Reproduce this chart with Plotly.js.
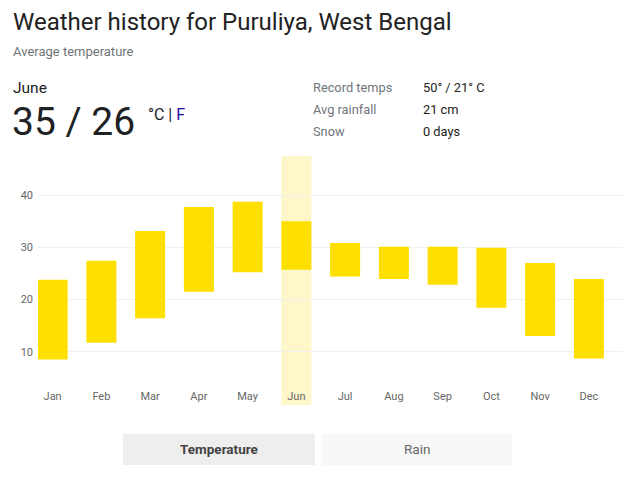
<!DOCTYPE html>
<html>
<head>
<meta charset="utf-8">
<script src="https://cdn.plot.ly/plotly-3.0.1.min.js"></script>
<style>html,body{margin:0;padding:0;background:#fff;}#chart{width:629px;height:479px;}</style>
</head>
<body>
<div id="chart"></div>
<script>
// ---- data ----
var months = ['Jan','Feb','Mar','Apr','May','Jun','Jul','Aug','Sep','Oct','Nov','Dec'];
var highTemps = [23.8, 27.4, 33.1, 37.7, 38.7, 35.0, 30.8, 30.1, 30.1, 29.9, 27.0, 23.9];
var lowTemps  = [8.5, 11.7, 16.4, 21.5, 25.2, 25.7, 24.4, 23.9, 22.8, 18.4, 13.0, 8.7];
var yTickVals = [10, 20, 30, 40];
var selectedMonth = 'Jun';
var titleText = 'Weather history for Puruliya, West Bengal';
var subtitleText = 'Average temperature';
var monthName = 'June';
var currentTemps = '35 / 26';
var statLabels = ['Record temps', 'Avg rainfall', 'Snow'];
var statValues = ['50° / 21° C', '21 cm', '0 days'];
var tabLabels = ['Temperature', 'Rain'];

// ---- layout helpers ----
var W = 629, H = 479;
var M = {l: 38, r: 6, t: 156, b: 74};
var PW = W - M.l - M.r, PH = H - M.t - M.b;
function px(x) { return (x - M.l) / PW; }
function py(y) { return (H - M.b - y) / PH; }
var FONT = 'Roboto, Arial, sans-serif';

var spans = highTemps.map(function (h, i) { return h - lowTemps[i]; });

var trace = {
  type: 'bar',
  x: months,
  y: spans,
  base: lowTemps,
  width: 0.615,
  marker: {color: '#fde000', line: {width: 0}},
  hoverinfo: 'skip'
};

var annotations = [];
function txt(text, x, y, size, color, opts) {
  var a = {
    text: text, xref: 'paper', yref: 'paper', x: px(x), y: py(y),
    xanchor: 'left', yanchor: 'middle', showarrow: false,
    font: {family: FONT, size: size, color: color}
  };
  if (opts) { for (var k in opts) a[k] = opts[k]; }
  annotations.push(a);
}
txt(titleText, 11, 22, 24, '#222222');
txt(subtitleText, 11, 51, 13, '#70757a');
txt(monthName, 11, 88, 15.5, '#222222');
txt(currentTemps, 10, 122, 39, '#202124');
txt('°C <span style="color:#202124">|</span> <span style="color:#1a0dab">F</span>', 146, 115, 16, '#202124');
var statY = [87, 109, 132];
statLabels.forEach(function (s, i) {
  txt(s, 311, statY[i], 12.8, '#70757a');
  txt(statValues[i], 421, statY[i], 12.8, '#222222');
});

var tabX = [[123, 315], [321, 512]];
var tabFill = ['#eeeeee', '#f8f8f8'];
var tabColor = ['#444444', '#666666'];
var shapes = [];
tabLabels.forEach(function (t, i) {
  shapes.push({
    type: 'rect', xref: 'paper', yref: 'paper', layer: 'below',
    x0: px(tabX[i][0]), x1: px(tabX[i][1]), y0: py(465), y1: py(434),
    fillcolor: tabFill[i], line: {width: 0}
  });
  txt(i === 0 ? '<b>' + t + '</b>' : t, (tabX[i][0] + tabX[i][1]) / 2, 449, 13.5, tabColor[i], {xanchor: 'center'});
});

// highlight band for selected month
shapes.push({
  type: 'rect', xref: 'x', yref: 'paper', layer: 'below',
  x0: selectedMonth, x1: selectedMonth, x0shift: -0.3075, x1shift: 0.3075,
  y0: 0, y1: 1,
  fillcolor: '#fef7c9', line: {width: 0}
});

var layout = {
  width: W, height: H,
  margin: M,
  paper_bgcolor: '#ffffff',
  plot_bgcolor: 'rgba(0,0,0,0)',
  showlegend: false,
  bargap: 0.4,
  font: {family: FONT, size: 11, color: '#666666'},
  xaxis: {
    type: 'category',
    range: [-0.3, 11.7],
    showgrid: false, zeroline: false, showline: false,
    ticks: '',
    ticklabelposition: 'inside',
    tickfont: {family: FONT, size: 11, color: '#666666'},
    fixedrange: true
  },
  yaxis: {
    range: [-0.2, 47.47],
    tickvals: yTickVals,
    ticktext: yTickVals.map(String),
    showgrid: true, gridcolor: '#f0f0f0', gridwidth: 1,
    zeroline: false, showline: false, ticks: '',
    tickfont: {family: FONT, size: 11, color: '#666666'},
    ticklabelstandoff: 4,
    fixedrange: true
  },
  shapes: shapes,
  annotations: annotations
};

Plotly.newPlot('chart', [trace], layout, {displayModeBar: false, staticPlot: true});
</script>
</body>
</html>
